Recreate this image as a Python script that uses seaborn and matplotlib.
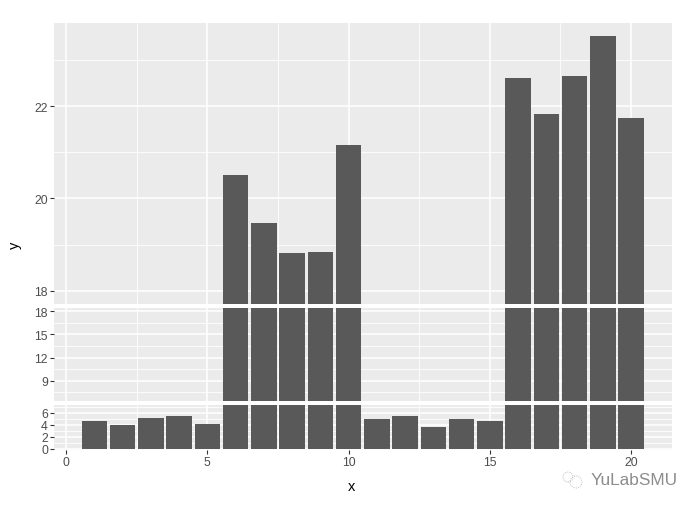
import numpy as np
import pandas as pd
import matplotlib
matplotlib.use('Agg')
import matplotlib.pyplot as plt
from matplotlib.patches import Circle
from matplotlib.ticker import FixedLocator
import seaborn as sns

# Values
x_values = list(range(1, 21))
y_values = [4.7, 4.0, 5.2, 5.5, 4.2,
            20.52, 19.46, 18.81, 18.85, 21.17,
            5.0, 5.5, 3.7, 4.9, 4.7,
            22.62, 21.84, 22.66, 23.53, 21.75]

x_ticks = [0, 5, 10, 15, 20]
x_minor = [2.5, 7.5, 12.5, 17.5]

top_ticks = [18, 20, 22]
top_minor = [19, 21, 23]
mid_ticks = [9, 12, 15, 18]
mid_minor = [7.5, 10.5, 13.5, 16.5]
low_ticks = [0, 2, 4, 6]
low_minor = [1, 3, 5, 7]

W, H = 698, 510
LEFT, RIGHT = 54, 672


def panel_rect(top_px, bottom_px):
    return [LEFT / W, 1 - bottom_px / H, (RIGHT - LEFT) / W, (bottom_px - top_px) / H]


def draw_panel(fig, df, rect, ylim, ticks, minor, show_x=False):
    ax = fig.add_axes(rect)
    sns.barplot(data=df, x='x', y='y', native_scale=True, width=0.9,
                color='#595959', saturation=1, linewidth=0, errorbar=None, ax=ax)
    ax.set_xlim(-0.43, 21.45)
    ax.set_ylim(*ylim)
    ax.set_facecolor('#EBEBEB')
    ax.set_axisbelow(True)
    for side in ax.spines.values():
        side.set_visible(False)

    ax.xaxis.set_major_locator(FixedLocator(x_ticks))
    ax.xaxis.set_minor_locator(FixedLocator(x_minor))
    ax.yaxis.set_major_locator(FixedLocator(ticks))
    ax.yaxis.set_minor_locator(FixedLocator(minor))
    ax.set_yticklabels([str(t) for t in ticks])
    ax.grid(which='major', color='white', linewidth=1.15)
    ax.grid(which='minor', color='white', linewidth=0.6)

    # set_style('white') turns the ticks off, so ask for them here
    ax.tick_params(axis='y', which='major', left=True, length=2.6, width=0.8, color='#333333',
                   labelcolor='#4D4D4D', labelsize=8.8, pad=1.8)
    ax.tick_params(axis='x', which='major', bottom=show_x, length=2.6, width=0.8,
                   color='#333333', labelcolor='#4D4D4D', labelsize=8.8, pad=1.8,
                   labelbottom=show_x)
    ax.tick_params(which='minor', left=False, bottom=False, length=0)
    ax.set_xlabel('')
    ax.set_ylabel('')
    return ax


def main():
    sns.set_style('white')
    plt.rcParams['font.family'] = ['Liberation Sans', 'DejaVu Sans']

    df = pd.DataFrame({'x': x_values, 'y': y_values})
    fig = plt.figure(figsize=(W / 100, H / 100), dpi=100)

    draw_panel(fig, df, panel_rect(23.7, 304.7), (17.72, 23.81), top_ticks, top_minor)
    draw_panel(fig, df, panel_rect(308.7, 401.7), (6.41, 18.45), mid_ticks, mid_minor)
    draw_panel(fig, df, panel_rect(405.7, 451), (-0.2, 7.33), low_ticks, low_minor, show_x=True)

    fig.text(352 / W, 1 - 487.5 / H, 'x', fontsize=10.5, color='black', ha='center', va='center')
    fig.text(15 / W, 1 - 245 / H, 'y', fontsize=10.5, color='black', rotation=90,
             ha='center', va='center')

    # Watermark in the corner
    fig.text(591 / W, 1 - 481 / H, 'YuLabSMU', fontsize=12.4, color='#8C8C8C',
             ha='left', va='center')
    for cx, cy, r in [(568, 478, 5), (576, 483, 6)]:
        fig.add_artist(Circle((cx / 100, (H - cy) / 100), r / 100, transform=fig.dpi_scale_trans,
                              fill=False, edgecolor='#A6A6A6', linewidth=0.6, linestyle=':'))

    fig.savefig('out.png', dpi=100)


if __name__ == "__main__":
    main()
